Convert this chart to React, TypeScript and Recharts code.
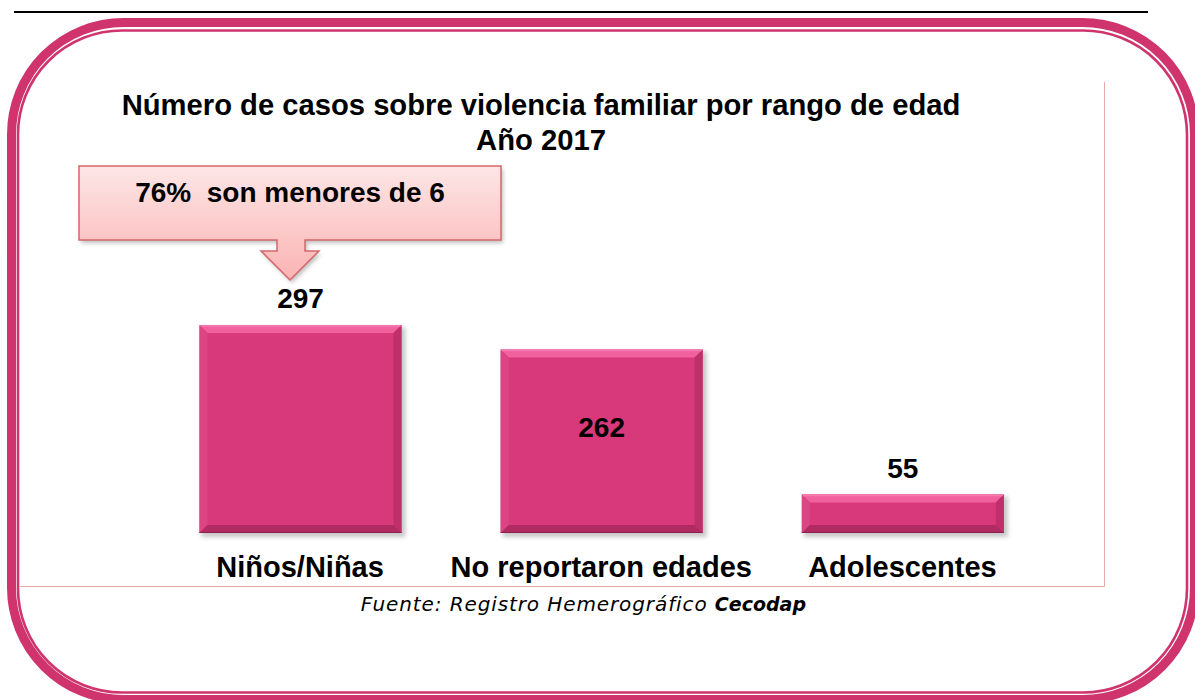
import React from "react";
import { BarChart, Bar, XAxis, YAxis, LabelList } from "recharts";

const categories = ["Niños/Niñas", "No reportaron edades", "Adolescentes"];
const values = [297, 262, 55];
const labelInside = [false, true, false];
const titleLines = ["Número de casos sobre violencia familiar por rango de edad", "Año 2017"];
const calloutText = "76%\u00a0 son menores de 6";
const sourcePrefix = "Fuente: Registro Hemerográfico ";
const sourceBold = "Cecodap";

const data = categories.map((name, i) => ({ name, value: values[i], inside: labelInside[i] }));

const W = 1195;
const H = 700;
const FRAME = "#cf346c";

function roundedRectPath(x1: number, y1: number, x2: number, y2: number, r: number) {
  return `M ${x1 + r} ${y1} L ${x2 - r} ${y1} A ${r} ${r} 0 0 1 ${x2} ${y1 + r} L ${x2} ${y2 - r} A ${r} ${r} 0 0 1 ${x2 - r} ${y2} L ${x1 + r} ${y2} A ${r} ${r} 0 0 1 ${x1} ${y2 - r} L ${x1} ${y1 + r} A ${r} ${r} 0 0 1 ${x1 + r} ${y1} Z`;
}

const BevelBar = (props: any) => {
  const { x, y, width, height } = props;
  if (!height || height <= 0) return null;
  const b = Math.min(8, height / 2);
  const w = width;
  const h = height;
  return (
    <g>
      <rect x={x + 2} y={y + 2} width={w + 2} height={h + 2} fill="rgba(0,0,0,0.22)" filter="url(#barShadow)" />
      <rect x={x} y={y} width={w} height={h} fill="#d8397a" />
      <polygon points={`${x},${y} ${x + w},${y} ${x + w - b},${y + b} ${x + b},${y + b}`} fill="#f0619e" />
      <polygon points={`${x},${y} ${x + b},${y + b} ${x + b},${y + h - b} ${x},${y + h}`} fill="#dd4484" />
      <polygon points={`${x + w},${y} ${x + w},${y + h} ${x + w - b},${y + h - b} ${x + w - b},${y + b}`} fill="#bf2f69" />
      <polygon points={`${x},${y + h} ${x + w},${y + h} ${x + w - b},${y + h - b} ${x + b},${y + h - b}`} fill="#b02b61" />
      <line x1={x} y1={y + h - 0.5} x2={x + w} y2={y + h - 0.5} stroke="#8c2150" strokeWidth={1} />
      <line x1={x + 1} y1={y + 1} x2={x + w - 1} y2={y + 1} stroke="#f77aae" strokeWidth={1.5} />
    </g>
  );
};

const ValueLabel = (props: any) => {
  const { x, y, width, height, value, index } = props;
  const inside = labelInside[index];
  const ty = inside ? y + height * 0.475 : y - 17;
  return (
    <text
      x={x + width / 2}
      y={ty}
      textAnchor="middle"
      fontFamily="'Liberation Sans', Arial, sans-serif"
      fontWeight="bold"
      fontSize={28}
      fill="#000"
    >
      {value}
    </text>
  );
};

const CategoryTick = (props: any) => {
  const { x, y, payload } = props;
  return (
    <text
      x={x}
      y={y + 44}
      textAnchor="middle"
      fontFamily="'Liberation Sans', Arial, sans-serif"
      fontWeight="bold"
      fontSize={29}
      fill="#000"
    >
      {payload.value}
    </text>
  );
};

export default function App() {
  const font = "'Liberation Sans', Arial, sans-serif";
  return (
    <div style={{ position: "absolute", left: 0, top: 0, width: W, height: H, overflow: "hidden", background: "#fff" }}>
      <svg width={W} height={H} style={{ position: "absolute", left: 0, top: 0 }}>
        <defs>
          <linearGradient id="calloutGrad" x1="0" y1="0" x2="0" y2="1">
            <stop offset="0%" stopColor="#fde6e6" />
            <stop offset="100%" stopColor="#fbb3b3" />
          </linearGradient>
          <filter id="calloutShadow" x="-10%" y="-10%" width="130%" height="140%">
            <feGaussianBlur stdDeviation="2" />
          </filter>
        </defs>
        {/* top black rule */}
        <line x1={14} y1={12} x2={1148} y2={12} stroke="#000" strokeWidth={2} />
        {/* pink frame */}
        <path d={roundedRectPath(11.5, 22.5, 1194.5, 699.5, 112)} fill="none" stroke={FRAME} strokeWidth={9} />
        <path d={roundedRectPath(18, 30.5, 1187, 692.5, 104)} fill="none" stroke={FRAME} strokeWidth={2.6} />
        {/* chart area border */}
        <line x1={1104.5} y1={82} x2={1104.5} y2={586.5} stroke="#e9a9a9" strokeWidth={1} />
        <line x1={19} y1={586.5} x2={1104.5} y2={586.5} stroke="#e9a9a9" strokeWidth={1} />
        {/* title */}
        <text x={541} y={115} textAnchor="middle" fontFamily={font} fontWeight="bold" fontSize={29.2} fill="#000">
          {titleLines[0]}
        </text>
        <text x={541} y={150} textAnchor="middle" fontFamily={font} fontWeight="bold" fontSize={29.2} fill="#000">
          {titleLines[1]}
        </text>
        {/* callout */}
        <path
          d="M 79 166 L 501 166 L 501 240 L 305 240 L 305 251 L 319 251 L 290 280 L 261 251 L 277 251 L 277 240 L 79 240 Z"
          fill="rgba(0,0,0,0.25)"
          transform="translate(2,3)"
          filter="url(#calloutShadow)"
        />
        <path
          d="M 79 166 L 501 166 L 501 240 L 305 240 L 305 251 L 319 251 L 290 280 L 261 251 L 277 251 L 277 240 L 79 240 Z"
          fill="url(#calloutGrad)"
          stroke="#d4676a"
          strokeWidth={1.5}
        />
        <text x={290} y={202} textAnchor="middle" fontFamily={font} fontWeight="bold" fontSize={28} fill="#000">
          {calloutText}
        </text>
        {/* source */}
        <text x={806} y={611} textAnchor="end" fontFamily="'DejaVu Sans', Verdana, sans-serif" fontStyle="italic" fill="#000">
          <tspan fontSize={20} letterSpacing={0.9}>{sourcePrefix}</tspan>
          <tspan fontSize={19} fontWeight="bold">{sourceBold}</tspan>
        </text>
      </svg>
      <div style={{ position: "absolute", left: 0, top: 0 }}>
        <BarChart
          width={W}
          height={H}
          data={data}
          margin={{ top: 323, right: 142, bottom: 117, left: 149.5 }}
        >
          <defs>
            <filter id="barShadow" x="-10%" y="-10%" width="130%" height="140%">
              <feGaussianBlur stdDeviation="2" />
            </filter>
          </defs>
          <XAxis
            dataKey="name"
            height={50}
            axisLine={false}
            tickLine={false}
            tickSize={0}
            tickMargin={0}
            interval={0}
            tick={<CategoryTick />}
          />
          <YAxis hide domain={[0, 300]} type="number" />
          <Bar dataKey="value" barSize={202} shape={<BevelBar />} isAnimationActive={false}>
            <LabelList dataKey="value" content={<ValueLabel />} />
          </Bar>
        </BarChart>
      </div>
    </div>
  );
}
